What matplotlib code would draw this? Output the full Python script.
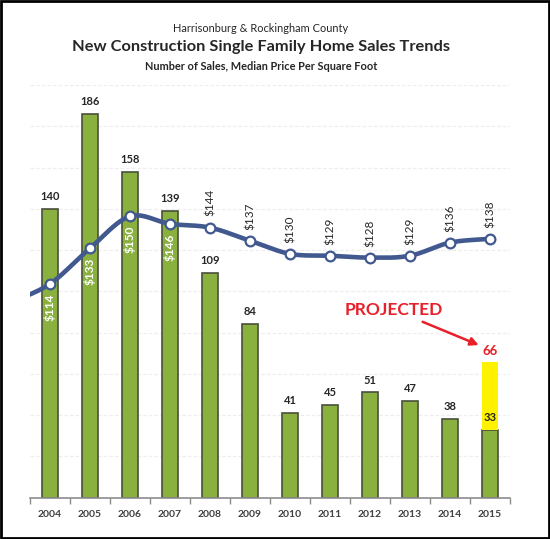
import numpy as np
import matplotlib.pyplot as plt
from matplotlib.patches import Rectangle

years = ['2004', '2005', '2006', '2007', '2008', '2009',
         '2010', '2011', '2012', '2013', '2014', '2015']
sales = [140, 186, 158, 139, 109, 84, 41, 45, 51, 47, 38, 33]
projected_2015 = 66
price_years = [2003] + [int(y) for y in years]
price = [104, 114, 133, 150, 146, 144, 137, 130, 129, 128, 129, 136, 138]

GREEN = '#8AB13F'
EDGE = '#4A4F3C'
BLUE = '#41598F'
TEXT = '#262626'


def smooth(xs, ys, n=30):
    # excel style smoothed line: bezier segments with catmull-rom tangents
    xs = np.asarray(xs, float)
    ys = np.asarray(ys, float)
    px, py = [], []
    for i in range(len(xs) - 1):
        i0 = max(i - 1, 0)
        i3 = min(i + 2, len(xs) - 1)
        c1x = xs[i] + (xs[i + 1] - xs[i0]) / 6
        c1y = ys[i] + (ys[i + 1] - ys[i0]) / 6
        c2x = xs[i + 1] - (xs[i3] - xs[i]) / 6
        c2y = ys[i + 1] - (ys[i3] - ys[i]) / 6
        t = np.linspace(0, 1, n)
        px.extend((1 - t) ** 3 * xs[i] + 3 * (1 - t) ** 2 * t * c1x + 3 * (1 - t) * t ** 2 * c2x + t ** 3 * xs[i + 1])
        py.extend((1 - t) ** 3 * ys[i] + 3 * (1 - t) ** 2 * t * c1y + 3 * (1 - t) * t ** 2 * c2y + t ** 3 * ys[i + 1])
    return np.array(px), np.array(py)


plt.rcParams['font.family'] = ['Lato', 'DejaVu Sans']

fig = plt.figure(figsize=(5.5, 5.39), dpi=100)
ax = fig.add_axes([0.0545, 0.0766, 0.8727, 0.7656])
x = np.arange(len(years))

ax.bar(x, sales, width=0.42, color=GREEN, edgecolor=EDGE, linewidth=1.2, zorder=2)
ax.bar(x[-1], projected_2015 - sales[-1], bottom=sales[-1], width=0.42,
       color='#FFF200', edgecolor='none', zorder=2)

for i, v in enumerate(sales):
    ax.annotate(str(v), (x[i], v), xytext=(0, 5), textcoords='offset points',
                ha='center', va='bottom', fontsize=8, fontweight='bold', color=TEXT)
ax.annotate(str(projected_2015), (x[-1], projected_2015), xytext=(0, 3),
            textcoords='offset points', ha='center', va='bottom',
            fontsize=9.5, fontweight='bold', color='#E8202A')

ax.set_xlim(-0.5, 11.5)
ax.set_ylim(0, 200)
ax.set_yticks(np.arange(20, 201, 20))
ax.yaxis.grid(True, color='#EEEEEE', linestyle=(0, (3, 1.5)), linewidth=0.9, zorder=0)
ax.set_axisbelow(True)
ax.tick_params(axis='y', length=0, labelleft=False)
ax.set_xticks(x)
ax.set_xticklabels(years, fontsize=7.5, fontweight='bold', color='#404040')
ax.set_xticks(np.arange(-0.5, 12, 1), minor=True)
ax.tick_params(axis='x', which='major', length=0, pad=9)
ax.tick_params(axis='x', which='minor', length=4, color='#8C8C8C', width=1)
for s in ['top', 'right', 'left']:
    ax.spines[s].set_visible(False)
ax.spines['bottom'].set_color('#8C8C8C')
ax.spines['bottom'].set_linewidth(1.2)

ax.annotate('PROJECTED', xy=(10.72, 74), xytext=(8.6, 91), ha='center', va='center',
            fontsize=12.5, fontweight='bold', color='#E8202A',
            arrowprops=dict(arrowstyle='-|>', color='#E8202A', lw=1.8,
                            mutation_scale=12, shrinkA=2, shrinkB=0))

ax2 = ax.twinx()
ax2.set_ylim(0, 220)
ax2.axis('off')
px = np.array(price_years) - int(years[0])
sx, sy = smooth(px, price)
ax2.plot(sx, sy, color=BLUE, linewidth=3.3, solid_capstyle='round', zorder=3)
ax2.plot(px[1:], price[1:], 'o', color='white', markeredgecolor=BLUE,
         markeredgewidth=1.6, markersize=7, zorder=4)
ax2.set_xlim(-0.5, 11.5)

for i, v in enumerate(price[1:]):
    if i < 4:
        ax2.annotate(f'${v}', (x[i], v), xytext=(0, -7), textcoords='offset points',
                     ha='center', va='top', rotation=90, fontsize=8.5,
                     fontweight='bold', color='white', zorder=5)
    else:
        ax2.annotate(f'${v}', (x[i], v), xytext=(0, 8), textcoords='offset points',
                     ha='center', va='bottom', rotation=90, fontsize=8.5,
                     color=TEXT, zorder=5)

fig.text(0.474, 0.948, 'Harrisonburg & Rockingham County', ha='center', va='center',
         fontsize=7.9, color=TEXT)
fig.text(0.474, 0.913, 'New Construction Single Family Home Sales Trends', ha='center',
         va='center', fontsize=11.8, fontweight='bold', color=TEXT)
fig.text(0.474, 0.877, 'Number of Sales, Median Price Per Square Foot', ha='center',
         va='center', fontsize=7.9, fontweight='bold', color=TEXT)

fig.patches.append(Rectangle((0.002, 0.002), 0.996, 0.996, transform=fig.transFigure,
                             fill=False, edgecolor='black', linewidth=2))

fig.savefig('out.png', dpi=100)
